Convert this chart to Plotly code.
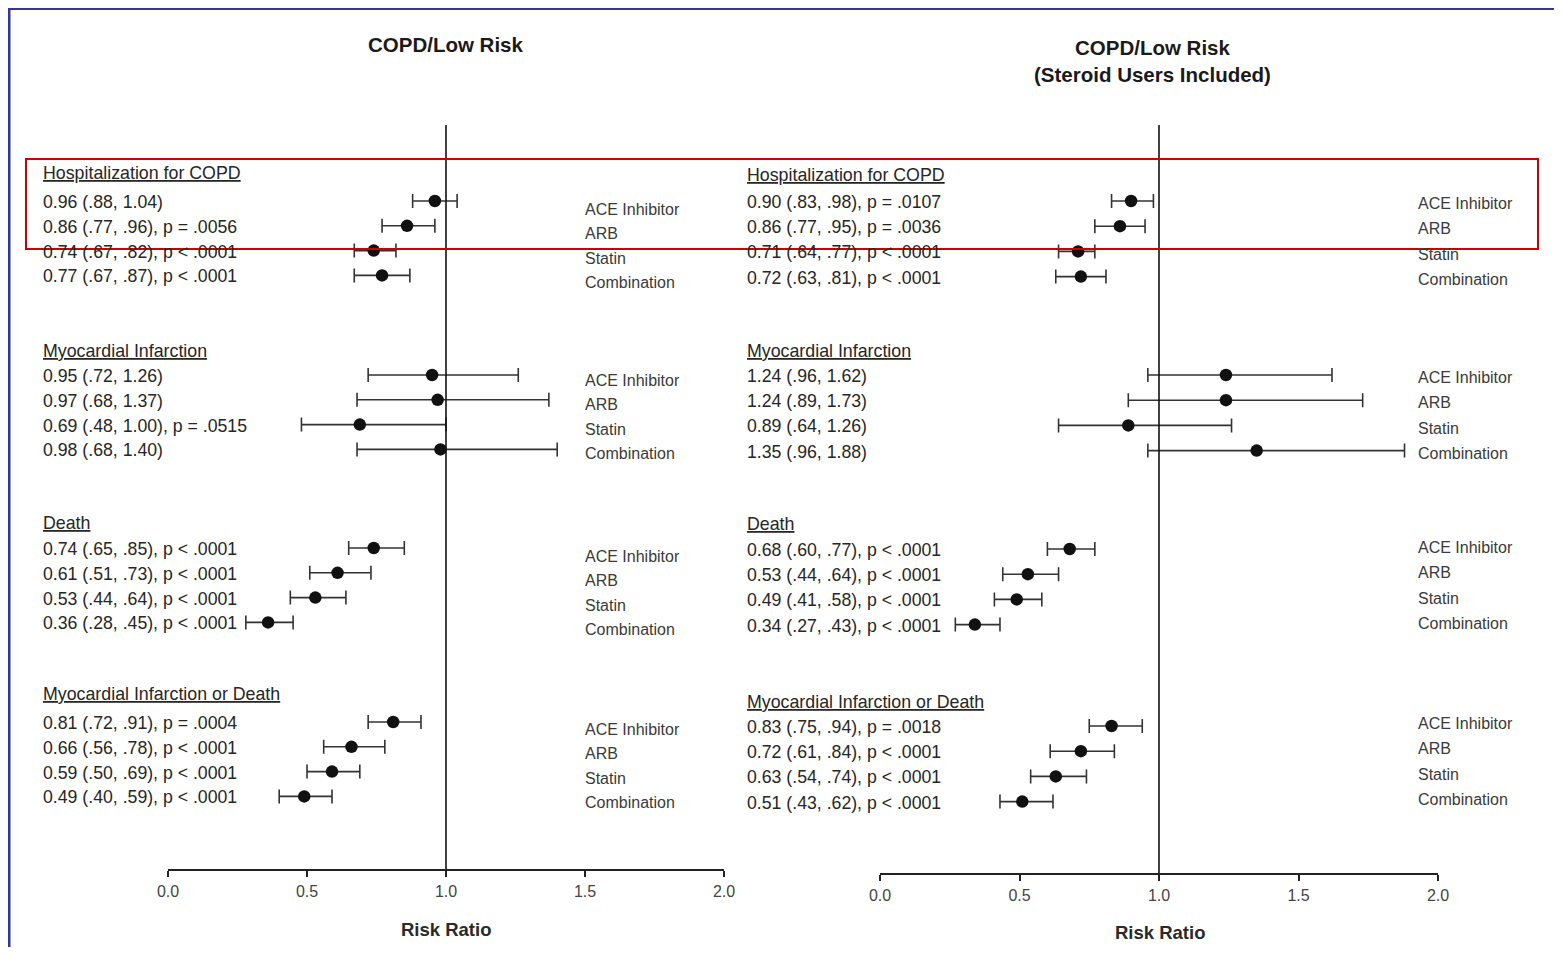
import plotly.graph_objects as go

# The page body keeps its default 8px margin, so the figure is drawn 8px in
# from the window's left/top edge and is sized to fit the 1562x955 window.
PAGE_W, PAGE_H, OFF = 1562, 955, 8
W, H = PAGE_W - 2 * OFF, PAGE_H - 2 * OFF

# ---------------- data ----------------
outcomes = ["Hospitalization for COPD", "Myocardial Infarction", "Death",
            "Myocardial Infarction or Death"]
drugs = ["ACE Inhibitor", "ARB", "Statin", "Combination"]

# Left panel: COPD/Low Risk
left_rr = [[0.96, 0.86, 0.74, 0.77],
           [0.95, 0.97, 0.69, 0.98],
           [0.74, 0.61, 0.53, 0.36],
           [0.81, 0.66, 0.59, 0.49]]
left_lo = [[0.88, 0.77, 0.67, 0.67],
           [0.72, 0.68, 0.48, 0.68],
           [0.65, 0.51, 0.44, 0.28],
           [0.72, 0.56, 0.50, 0.40]]
left_hi = [[1.04, 0.96, 0.82, 0.87],
           [1.26, 1.37, 1.00, 1.40],
           [0.85, 0.73, 0.64, 0.45],
           [0.91, 0.78, 0.69, 0.59]]
left_p = [["", "p = .0056", "p < .0001", "p < .0001"],
          ["", "", "p = .0515", ""],
          ["p < .0001", "p < .0001", "p < .0001", "p < .0001"],
          ["p = .0004", "p < .0001", "p < .0001", "p < .0001"]]

# Right panel: COPD/Low Risk (Steroid Users Included)
right_rr = [[0.90, 0.86, 0.71, 0.72],
            [1.24, 1.24, 0.89, 1.35],
            [0.68, 0.53, 0.49, 0.34],
            [0.83, 0.72, 0.63, 0.51]]
right_lo = [[0.83, 0.77, 0.64, 0.63],
            [0.96, 0.89, 0.64, 0.96],
            [0.60, 0.44, 0.41, 0.27],
            [0.75, 0.61, 0.54, 0.43]]
right_hi = [[0.98, 0.95, 0.77, 0.81],
            [1.62, 1.73, 1.26, 1.88],
            [0.77, 0.64, 0.58, 0.43],
            [0.94, 0.84, 0.74, 0.62]]
right_p = [["p = .0107", "p = .0036", "p < .0001", "p < .0001"],
           ["", "", "", ""],
           ["p < .0001", "p < .0001", "p < .0001", "p < .0001"],
           ["p = .0018", "p < .0001", "p < .0001", "p < .0001"]]

tick_vals = [0.0, 0.5, 1.0, 1.5, 2.0]
tick_text = ["0.0", "0.5", "1.0", "1.5", "2.0"]
panel_titles = ["COPD/Low Risk", "COPD/Low Risk<br>(Steroid Users Included)"]
axis_title = "Risk Ratio"

# ---------------- layout helpers ----------------
FONT = "Liberation Sans, Arial, Helvetica, sans-serif"
TXT = "#262626"


def fmt_ci(v):
    s = f"{v:.2f}"
    return s[1:] if v < 1 else s


def label(rr, lo, hi, p):
    s = f"{rr:.2f} ({fmt_ci(lo)}, {fmt_ci(hi)})"
    if p:
        s += f", {p}"
    return s


def px_x(X):
    """window pixel column -> paper x"""
    return (X - OFF) / W


def px_y(Y):
    """window pixel row -> paper y"""
    return 1 - (Y - OFF) / H


panels = [
    dict(rr=left_rr, lo=left_lo, hi=left_hi, p=left_p,
         xa="x", ya="y", x0=168, x1=724, axis_y=869,
         row_base=[201, 375, 548, 722], row_step=24.8,
         head_y=[173, 351, 523, 694],
         drug_base=[209, 380, 556, 729], drug_step=24.5,
         text_x=41, drug_x=583, title_y=44, title_x=446,
         rr_y=929, center_x=446),
    dict(rr=right_rr, lo=right_lo, hi=right_hi, p=right_p,
         xa="x2", ya="y2", x0=880, x1=1438, axis_y=873,
         row_base=[201, 375, 549, 726], row_step=25.2,
         head_y=[175, 351, 524, 702],
         drug_base=[203, 377, 547, 723], drug_step=25.5,
         text_x=745, drug_x=1416, title_y=61, title_x=1152,
         rr_y=932, center_x=1160),
]

fig = go.Figure()
annotations = []
shapes = []

for k, pn in enumerate(panels):
    xs, ys, ep, em = [], [], [], []
    for g in range(4):
        for i in range(4):
            y = pn["row_base"][g] + i * pn["row_step"]
            rr, lo, hi = pn["rr"][g][i], pn["lo"][g][i], pn["hi"][g][i]
            xs.append(rr)
            ys.append(y)
            ep.append(hi - rr)
            em.append(rr - lo)
            annotations.append(dict(
                x=px_x(pn["text_x"]), xref="paper", y=px_y(y + 1), yref="paper",
                text=label(rr, lo, hi, pn["p"][g][i]), showarrow=False,
                xanchor="left", yanchor="middle",
                font=dict(family=FONT, size=17.7, color=TXT)))
            annotations.append(dict(
                x=px_x(pn["drug_x"]), xref="paper",
                y=px_y(pn["drug_base"][g] + i * pn["drug_step"]), yref="paper",
                text=drugs[i], showarrow=False, xanchor="left", yanchor="middle",
                font=dict(family=FONT, size=16, color="#3a3a3a")))
        annotations.append(dict(
            x=px_x(pn["text_x"]), xref="paper", y=px_y(pn["head_y"][g]), yref="paper",
            text=f"<u>{outcomes[g]}</u>", showarrow=False,
            xanchor="left", yanchor="middle",
            font=dict(family=FONT, size=17.8, color=TXT)))

    fig.add_trace(go.Scatter(
        x=xs, y=ys, mode="markers", xaxis=pn["xa"], yaxis=pn["ya"],
        marker=dict(color="#111111", size=12.5, symbol="circle"),
        error_x=dict(type="data", symmetric=False, array=ep, arrayminus=em,
                     color="#333333", thickness=1.6, width=7),
        showlegend=False, hoverinfo="skip"))

    # reference line at RR = 1
    shapes.append(dict(type="line", xref=pn["xa"], yref=pn["ya"],
                       x0=1, x1=1, y0=125, y1=pn["axis_y"],
                       line=dict(color="#111111", width=1.6)))

    annotations.append(dict(
        x=px_x(pn["title_x"]), xref="paper",
        y=px_y(pn["title_y"]), yref="paper", text=f"<b>{panel_titles[k]}</b>",
        showarrow=False, xanchor="center", yanchor="middle",
        font=dict(family=FONT, size=20.5, color="#1a1a1a")))
    annotations.append(dict(
        x=px_x(pn["center_x"]), xref="paper", y=px_y(pn["rr_y"]), yref="paper",
        text=f"<b>{axis_title}</b>", showarrow=False,
        xanchor="center", yanchor="middle",
        font=dict(family=FONT, size=18.5, color="#2a2a2a")))

xaxis_common = dict(range=[0, 2], tickvals=tick_vals, ticktext=tick_text,
                    showline=True, linecolor="#222222", linewidth=1.5,
                    ticks="outside", ticklen=6, tickwidth=1.5, tickcolor="#222222",
                    showgrid=False, zeroline=False, fixedrange=True,
                    automargin=False,
                    tickfont=dict(family=FONT, size=16, color="#444444"),
                    ticklabelstandoff=1)

p0, p1 = panels
fig.update_layout(
    width=W, height=H, autosize=False,
    margin=dict(l=0, r=0, t=0, b=0, pad=0, autoexpand=False),
    paper_bgcolor="white", plot_bgcolor="white",
    xaxis=dict(domain=[px_x(p0["x0"]), px_x(p0["x1"])], anchor="y", **xaxis_common),
    xaxis2=dict(domain=[px_x(p1["x0"]), px_x(p1["x1"])], anchor="y2", **xaxis_common),
    yaxis=dict(domain=[px_y(p0["axis_y"]), 1], range=[p0["axis_y"], OFF],
               visible=False, fixedrange=True, automargin=False),
    yaxis2=dict(domain=[px_y(p1["axis_y"]), 1], range=[p1["axis_y"], OFF],
                visible=False, fixedrange=True, anchor="x2", automargin=False),
    annotations=annotations,
    shapes=shapes + [
        # scan frame (blue) on the left and top
        dict(type="line", xref="paper", yref="paper", x0=px_x(9), x1=px_x(9),
             y0=0, y1=1, line=dict(color="#3535a0", width=3)),
        dict(type="line", xref="paper", yref="paper", x0=px_x(8), x1=1,
             y0=px_y(8.5), y1=px_y(8.5), line=dict(color="#3535a0", width=3)),
        # red highlight rectangle
        dict(type="rect", xref="paper", yref="paper",
             x0=px_x(26), x1=px_x(1538), y0=px_y(249), y1=px_y(159),
             line=dict(color="#d00000", width=2), fillcolor="rgba(0,0,0,0)"),
    ],
)

fig.write_html("out.html", config={"displayModeBar": False})
